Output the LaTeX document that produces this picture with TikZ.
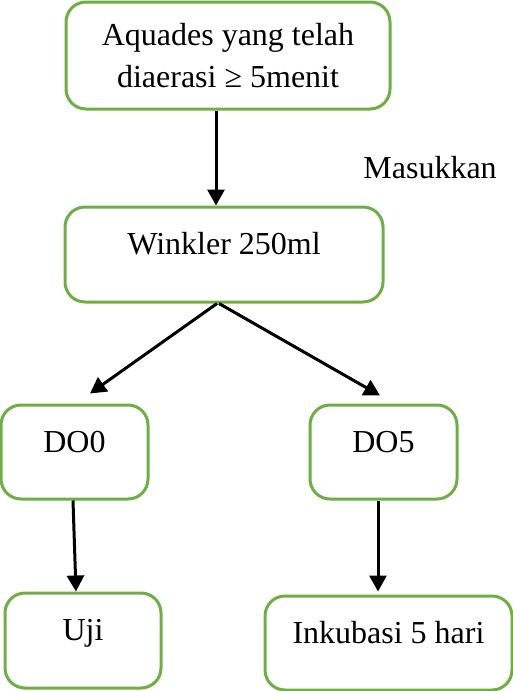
\documentclass[tikz,border=0pt]{standalone}
\usepackage{fontspec}
\setmainfont{Liberation Serif}
\usepackage{amssymb}
\usetikzlibrary{arrows.meta}
\definecolor{boxgreen}{RGB}{112,173,71}
\tikzset{b/.style={draw=boxgreen,line width=1.5pt,rounded corners=10pt,align=center,
  font=\fontsize{16}{21}\selectfont}}
\tikzset{one/.style={text height=0.7em,text depth=0.7em}}
\tikzset{arr/.style={-{Triangle[length=8pt,width=8.5pt]},line width=1.5pt}}

\begin{document}
\begin{tikzpicture}[x=0.5pt,y=-0.5pt]
        \useasboundingbox (0,0) rectangle (513,691);
        \node[b,minimum width=162pt,minimum height=53.5pt] (aquades) at (228,55.5)
          {Aquades yang telah\\diaerasi ≥ 5menit};
        \node[b,one,minimum width=159pt,minimum height=47.5pt] (winkler) at (224,254.5)
          {Winkler 250ml};
        \node[b,one,minimum width=73.5pt,minimum height=47pt] (do0) at (74.5,452) {DO0};
        \node[b,one,minimum width=73.5pt,minimum height=47pt] (do5) at (383.5,452) {DO5};
        \node[b,one,minimum width=78pt,minimum height=47.5pt] (uji) at (83,640.5) {Uji};
        \node[b,one,minimum width=123.5pt,minimum height=47pt] (inkubasi) at (388.5,643)
          {Inkubasi 5 hari};
        \node[anchor=base west,inner sep=0pt,font=\fontsize{16}{21}\selectfont] (masukkan)
          at (363,178) {Masukkan};
        % connectors
        \draw[arr] ([xshift=-6pt]aquades.south) -- ([xshift=-4pt]winkler.north);
        \draw[arr] ([xshift=-3.5pt]winkler.south) -- ([xshift=7.75pt,yshift=5pt]do0.north);
        \draw[arr] ([xshift=-2.5pt]winkler.south) -- ([xshift=-1.75pt,yshift=4pt]do5.north);
        \draw[arr] ([xshift=-0.75pt]do0.south) -- ([xshift=-3.5pt]uji.north);
        \draw[arr] ([xshift=-2.75pt]do5.south) -- ([xshift=-5.25pt,yshift=1.5pt]inkubasi.north);
      \end{tikzpicture}
\end{document}
